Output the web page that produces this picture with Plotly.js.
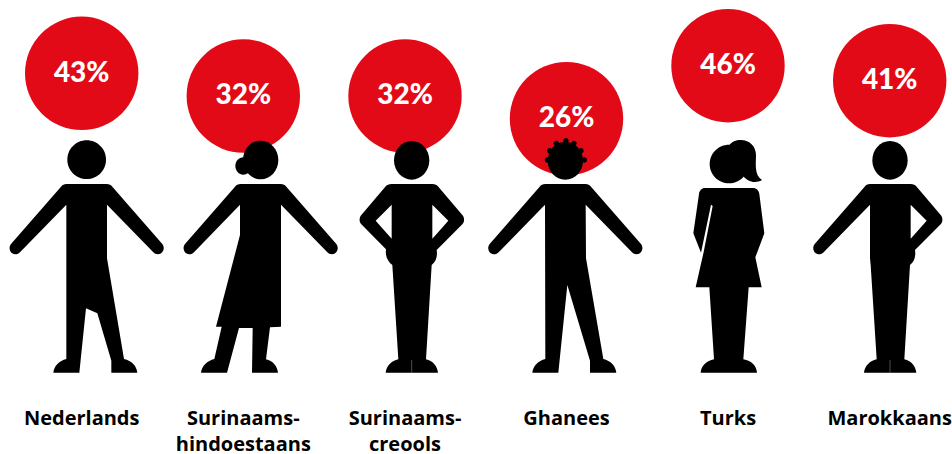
<!DOCTYPE html>
<html>
<head>
<meta charset="utf-8">
<script src="https://cdn.plot.ly/plotly-3.0.1.min.js"></script>
<style>html,body{margin:0;padding:0;background:#fff}#c{width:952px;height:454px}</style>
</head>
<body>
<div id="c"></div>
<script>
const categories = ['Nederlands','Surinaams-<br>hindoestaans','Surinaams-<br>creools','Ghanees','Turks','Marokkaans'];
const percentages = [43,32,32,26,46,41];
const columnX = [81.7,243.3,405,566.5,728,889.7];
const bubbleHeight = [73.3,96,96,118.7,65.7,80.7];

const RED = '#e30a17';
// pictogram outlines, 3x units relative to their crop origin
const oy = 130;
function tf(d, ox){
  return d.replace(/(-?\d+\.?\d*) (-?\d+\.?\d*)/g,(m,a,b)=>((+a/3+ox).toFixed(2)+' '+(+b/3+oy).toFixed(2)));
}
function ell(cx,cy,rx,ry){
  const k=0.5523, a=rx*k, b=ry*k;
  return `M ${cx-rx} ${cy} C ${cx-rx} ${cy-b} ${cx-a} ${cy-ry} ${cx} ${cy-ry} C ${cx+a} ${cy-ry} ${cx+rx} ${cy-b} ${cx+rx} ${cy} C ${cx+rx} ${cy+b} ${cx+a} ${cy+ry} ${cx} ${cy+ry} C ${cx-a} ${cy+ry} ${cx-rx} ${cy+b} ${cx-rx} ${cy} Z`;
}
const figures = [
 {ox:0, parts:[
  ell(260,89,58,58),
  'M 200 162 L 320 162 C 328 162 333 165 337 170 L 487 342 C 496 353 490 372 474 373 C 468 373 463 370 460 367 L 321 224 L 321 385 L 372 687 C 395 692 410 708 412 728 L 334 728 L 334 692 L 292 550 L 258 535 L 238 728 L 160 728 C 162 708 178 692 199 687 L 199 224 L 60 367 C 55 372 50 373 45 373 C 30 372 24 353 33 342 L 183 170 C 187 165 192 162 200 162 Z'
 ]},
 {ox:0, parts:[
  ell(782,90,53,58), ell(730,108,24,26),
  'M 722 162 L 842 162 C 850 162 855 165 859 170 L 1009 342 C 1018 353 1012 372 996 373 C 990 373 985 370 982 367 L 843 224 L 843 590 L 810 592 L 798 688 C 818 692 832 708 834 728 L 756 728 L 758 594 L 717 594 L 681 728 L 603 728 C 605 708 622 692 643 687 L 665 590 L 648 590 L 720 315 L 720 224 L 582 367 C 577 372 572 373 567 373 C 552 372 546 353 555 342 L 705 170 C 709 165 714 162 722 162 Z'
 ]},
 {ox:340, parts:[
  ell(215,91,53,58),
  'M 155 162 L 277 162 C 285 162 291 165 295 170 L 367 255 C 374 263 374 275 367 283 L 290 360 C 293 380 288 395 275 405 L 258 688 C 278 692 292 708 294 728 L 137 728 C 139 708 155 692 175 688 L 157 405 C 144 395 135 380 138 358 L 64 283 C 57 275 57 263 64 255 L 136 170 C 140 165 147 162 155 162 Z M 155 224 L 107 272 L 155 326 Z M 277 224 L 325 272 L 277 326 Z'
 ], seam:'M 215 690 L 215 728'},
 {ox:340, parts:[
  ell(676,92,53,57), ell(622,90,8,8), ell(629,62,8,8), ell(649,40,8,8), ell(678,32,8,8), ell(702,40,8,8), ell(723,62,8,8), ell(733,90,8,8),
  'M 616 162 L 736 162 C 744 162 749 165 753 170 L 903 342 C 912 353 906 372 890 373 C 884 373 879 370 876 367 L 737 224 L 738 385 L 790 687 C 812 692 827 708 829 728 L 750 728 L 750 692 L 682 465 L 655 728 L 577 728 C 579 708 595 692 616 687 L 615 224 L 476 367 C 471 372 466 373 461 373 C 446 372 440 353 449 342 L 599 170 C 603 165 608 162 616 162 Z'
 ]},
 {ox:650, parts:[
  ell(237,102,58,58),
  'M 238 46 C 245 35 258 30 272 30 C 300 30 318 50 318 75 C 318 100 312 135 336 150 C 310 165 285 150 270 125 Z',
  'M 165 174 L 308 174 C 320 174 327 182 328 192 L 343 310 L 316 382 L 335 472 L 296 472 L 280 688 C 305 692 320 708 321 728 L 152 728 C 153 708 170 692 192 688 L 178 472 L 137 472 L 161 366 L 188 228 L 183 224 L 153 368 L 130 310 L 147 192 C 148 182 155 174 165 174 Z'
 ]},
 {ox:650, parts:[
  ell(720,91,53,58),
  'M 660 162 L 782 162 C 790 162 796 165 800 170 L 872 255 C 879 263 879 275 872 283 L 795 360 C 798 380 793 395 780 405 L 763 688 C 783 692 797 708 799 728 L 642 728 C 644 708 660 692 680 688 L 662 405 L 660 385 L 660 224 L 521 367 C 516 372 511 373 506 373 C 491 372 485 353 494 342 L 644 170 C 648 165 652 162 660 162 Z M 782 224 L 830 272 L 782 326 Z'
 ], seam:'M 720 690 L 720 728'}
];
const shapes = [];
figures.forEach(f=>{
  f.parts.forEach(p=>shapes.push({type:'path',xref:'x',yref:'y',path:tf(p,f.ox),fillcolor:'#000',line:{width:0},layer:'above',fillrule:'evenodd'}));
  if(f.seam) shapes.push({type:'path',xref:'x',yref:'y',path:tf(f.seam,f.ox),line:{color:'#999',width:0.5},layer:'above'});
});

const bubbles = {
  type:'scatter', mode:'markers', x:columnX, y:bubbleHeight,
  marker:{size:113.4,color:RED,line:{width:0},opacity:1},
  hoverinfo:'skip', cliponaxis:false, showlegend:false
};
const percentLabels = {
  type:'scatter', mode:'text', x:columnX, y:bubbleHeight.map(v=>v+1.2),
  text:percentages.map(v=>v+'%'), textposition:'middle center',
  textfont:{family:'Lato, sans-serif',size:28,color:'#fff',weight:900},
  hoverinfo:'skip', cliponaxis:false, showlegend:false
};
const labels = {
  type:'scatter', mode:'text', x:columnX, y:categories.map(()=>410),
  text:categories, textposition:'bottom center',
  textfont:{family:'Open Sans, sans-serif',size:20,color:'#000',weight:700},
  hoverinfo:'skip', cliponaxis:false, showlegend:false
};
Plotly.newPlot('c',[bubbles,percentLabels,labels],{
  width:952,height:454,margin:{l:0,r:0,t:0,b:0},
  paper_bgcolor:'#fff',plot_bgcolor:'#fff',showlegend:false,
  xaxis:{range:[0,952],visible:false,fixedrange:true},
  yaxis:{range:[454,0],visible:false,fixedrange:true},
  shapes:shapes
},{displayModeBar:false,staticPlot:true});
</script>
</body>
</html>
